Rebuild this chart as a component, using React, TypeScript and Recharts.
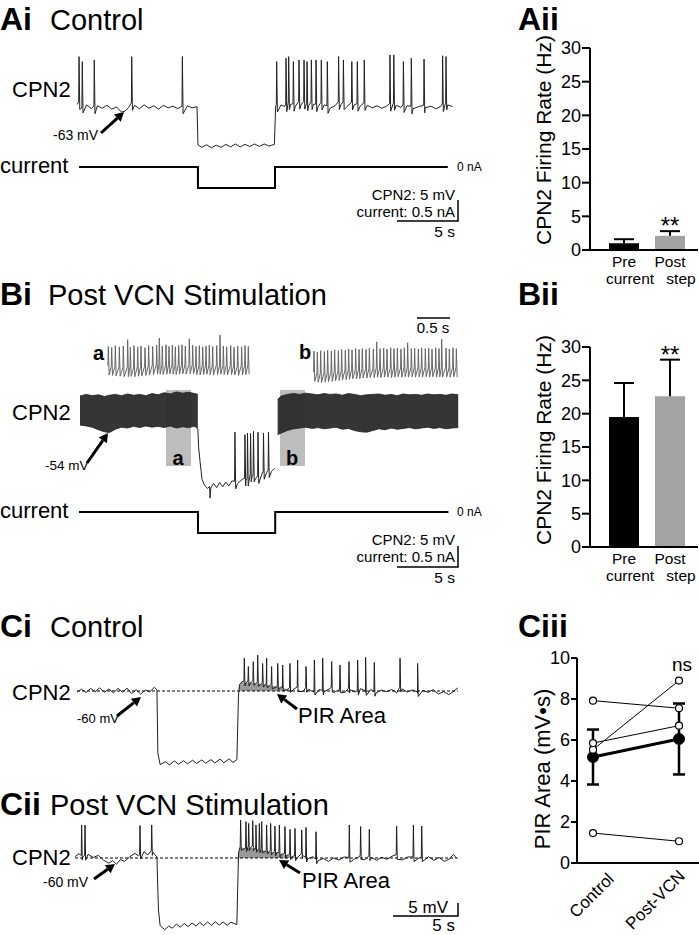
import React from 'react';
import {
  ComposedChart,
  LineChart,
  BarChart,
  Line,
  Area,
  Bar,
  Cell,
  XAxis,
  YAxis,
  ReferenceLine,
  ReferenceArea,
  ErrorBar,
  LabelList,
} from 'recharts';

const FONT = '"Liberation Sans", Arial, Helvetica, sans-serif';

type Pt = [number, number];
type Row = { t: number; v?: number; band?: [number, number]; pir?: [number, number]; base?: boolean };

// ---------- Ai: control recording (time s, membrane mV) ----------
const aiBaseline: Pt[] = [
  [0, -62.4], [0.4, -63.2], [0.8, -62.5], [1.2, -63.4], [1.7, -62.7], [2.1, -63.3], [2.5, -62.6],
  [2.9, -63.5], [3.3, -63.0], [3.7, -64.2], [4.0, -64.0], [4.3, -63.1], [4.8, -62.6], [5.2, -63.4],
  [5.6, -62.5], [6.0, -63.3], [6.4, -62.7], [6.8, -63.5], [7.2, -62.6], [7.6, -63.2], [8.0, -62.8],
  [8.4, -63.4], [9.2, -62.7], [9.6, -63.2], [10.0, -62.9],
  [10.08, -72.0], [10.4, -72.6], [10.8, -72.0], [11.2, -72.7], [11.6, -72.1], [12.0, -72.6],
  [12.4, -71.9], [12.8, -72.5], [13.2, -71.8], [13.6, -72.5], [14.0, -71.9], [14.4, -72.4],
  [14.8, -71.8], [15.2, -72.4], [15.6, -71.8], [16.0, -72.3], [16.45, -71.9],
  [16.55, -63.0], [17.0, -62.5], [17.3, -62.9], [17.8, -62.4], [18.2, -62.8], [18.7, -62.3],
  [19.3, -62.7], [19.7, -62.4], [20.1, -62.9], [20.6, -62.5], [21.1, -63.3], [21.5, -62.7],
  [22.0, -62.4], [22.5, -62.9], [23.1, -62.5], [23.6, -62.8], [24.2, -62.6], [24.6, -63.2],
  [25.0, -62.7], [25.4, -63.3], [25.8, -62.8], [26.6, -62.6], [27.0, -63.1], [27.5, -62.7],
  [28.0, -63.4], [28.5, -62.9], [29.0, -63.2], [29.5, -62.8], [29.9, -63.4], [30.3, -62.9],
  [30.9, -62.5], [31.3, -62.9],
];
const aiSpikes: Pt[] = [
  [0.17, -51.0], [0.44, -52.2], [1.44, -51.8], [4.56, -51.0], [8.78, -51.0], [16.64, -52.2],
  [17.42, -51.4], [17.64, -51.0], [18.03, -52.2], [18.5, -51.8], [18.92, -51.8], [19.17, -52.2],
  [19.53, -51.8], [19.92, -51.8], [20.36, -51.8], [20.86, -52.2], [21.8, -51.0], [22.2, -51.8],
  [22.9, -52.2], [23.36, -52.2], [23.94, -51.8], [26.08, -50.6], [26.4, -50.6], [27.2, -52.2],
  [27.86, -51.4], [28.92, -51.6], [30.47, -50.8], [30.75, -51.0],
];
const aiCurrent: Pt[] = [[0.17, 0], [10.08, 0], [10.08, -0.5], [16.5, -0.5], [16.5, 0], [30.9, 0]];

// ---------- Bi: after VCN stimulation ----------
// envelope of the dense spike train: [t, trough, peak]
const biBand: [number, number, number][] = [
  [0, -53.3, -46.4], [0.5, -53.5, -46.0], [1.0, -53.8, -46.3], [1.5, -54.4, -46.1], [2.0, -54.9, -46.5],
  [2.4, -55.1, -46.2], [2.9, -54.3, -46.0], [3.4, -53.8, -46.3], [3.9, -54.0, -45.9], [4.4, -53.6, -46.2],
  [4.9, -53.9, -46.0], [5.4, -53.5, -46.3], [5.9, -53.8, -45.8], [6.4, -53.6, -46.1], [6.9, -53.9, -45.6],
  [7.4, -53.5, -45.9], [7.9, -54.0, -45.4], [8.4, -53.7, -45.7], [8.9, -53.9, -45.5], [9.4, -53.6, -45.8],
  [9.66, -54.2, -46.0],
  [16.0, -56.0, -49.0], [16.2, -55.6, -47.2], [16.5, -55.2, -46.4], [17.0, -54.6, -46.0], [17.5, -54.2, -45.8],
  [18.0, -54.0, -46.0], [18.5, -53.8, -45.7], [19.0, -54.1, -45.9], [19.5, -53.9, -46.1], [20.0, -54.2, -45.8],
  [20.5, -54.0, -46.0], [21.0, -53.8, -45.9], [21.5, -54.3, -46.2], [22.0, -54.1, -45.8], [22.5, -54.6, -46.0],
  [23.0, -54.9, -46.3], [23.5, -55.0, -46.1], [24.0, -54.6, -46.0], [24.5, -54.2, -45.9], [25.0, -54.4, -46.2],
  [25.5, -54.0, -46.0], [26.0, -54.3, -46.3], [26.5, -54.1, -45.9], [27.0, -53.9, -46.1], [27.5, -54.2, -46.0],
  [28.0, -54.0, -46.2], [28.5, -53.8, -45.9], [29.0, -54.1, -46.1], [29.5, -53.9, -46.0], [30.0, -54.2, -46.2],
  [30.5, -54.0, -45.9], [31.0, -53.9, -46.1],
];
const biHyperBase: Pt[] = [
  [9.66, -54.2], [9.72, -58.5], [9.84, -62.0], [10.0, -66.2], [10.2, -67.6], [10.45, -68.4], [10.62, -67.9],
  [10.66, -70.7], [10.72, -68.3], [10.95, -67.2], [11.2, -68.2], [11.45, -67.0], [11.7, -68.0], [11.95, -66.9],
  [12.2, -67.8], [12.45, -66.6], [12.9, -67.3], [13.3, -66.2], [13.6, -66.6], [14.1, -65.6], [14.4, -66.0],
  [14.9, -65.0], [15.3, -64.6], [15.7, -64.3], [15.95, -63.6], [16.0, -56.0],
];
const biHyperSpikes: Pt[] = [
  [12.7, -55.0], [13.52, -55.6], [13.73, -55.2], [13.98, -55.3], [14.22, -54.8], [14.59, -55.0],
  [15.04, -55.2], [15.45, -55.0],
];
const biCurrent: Pt[] = [[-0.08, 0], [9.67, 0], [9.67, -0.5], [16.0, -0.5], [16.0, 0], [30.2, 0]];
// expanded views a and b: [t, trough, peak]
const insetASpikes: [number, number, number][] = [
  [0.02, -54.0, -47.2], [0.071, -54.1, -47.4], [0.126, -54.2, -47.0], [0.187, -54.3, -47.3],
  [0.247, -54.4, -47.1], [0.313, -54.4, -45.6], [0.354, -54.3, -47.4], [0.409, -54.4, -47.0],
  [0.465, -54.3, -47.3], [0.515, -54.2, -47.1], [0.576, -54.1, -47.5], [0.631, -54.0, -47.0],
  [0.692, -53.9, -47.2], [0.753, -53.8, -46.9], [0.793, -53.8, -45.2], [0.838, -53.9, -47.1],
  [0.894, -53.8, -46.8], [0.939, -53.7, -47.2], [0.99, -53.8, -46.9], [1.035, -53.9, -47.3],
  [1.086, -53.8, -47.0], [1.136, -53.7, -46.8], [1.187, -53.8, -47.1], [1.247, -53.7, -45.4],
  [1.298, -53.8, -46.9], [1.348, -53.9, -47.2], [1.399, -54.0, -47.0], [1.45, -53.9, -47.3],
  [1.5, -53.8, -47.1], [1.55, -53.9, -46.9], [1.601, -54.0, -47.2], [1.662, -53.9, -47.0],
  [1.712, -53.8, -44.5], [1.763, -53.9, -47.1], [1.813, -54.0, -47.3], [1.874, -53.9, -47.0],
  [1.924, -54.0, -47.4], [1.98, -54.1, -47.1], [2.04, -54.0, -47.3], [2.091, -53.9, -47.0],
  [2.141, -53.8, -47.2],
];
const insetBSpikes: [number, number, number][] = [
  [0.015, -54.8, -47.6], [0.066, -55.0, -47.8], [0.116, -55.1, -47.5], [0.172, -55.0, -47.7],
  [0.222, -54.9, -47.4], [0.278, -54.8, -47.6], [0.328, -54.7, -47.3], [0.384, -54.6, -47.5],
  [0.434, -54.5, -47.2], [0.49, -54.4, -47.4], [0.54, -54.3, -47.1], [0.591, -54.2, -47.3],
  [0.646, -54.2, -47.0], [0.697, -54.1, -47.2], [0.747, -54.0, -47.0], [0.803, -54.0, -47.2],
  [0.854, -53.9, -46.9], [0.914, -53.9, -47.1], [0.965, -53.8, -45.4], [1.015, -53.9, -47.0],
  [1.071, -53.8, -46.9], [1.121, -53.8, -47.1], [1.177, -53.9, -46.8], [1.227, -53.8, -47.0],
  [1.278, -53.7, -46.9], [1.333, -53.8, -47.1], [1.384, -53.7, -46.8], [1.434, -53.8, -45.6],
  [1.49, -53.7, -47.0], [1.54, -53.8, -46.9], [1.596, -53.7, -47.1], [1.646, -53.8, -46.8],
  [1.702, -53.7, -47.0], [1.753, -53.8, -46.9], [1.803, -53.7, -47.1], [1.859, -53.8, -46.8],
  [1.909, -53.7, -47.0], [1.95, -53.8, -44.8], [2.015, -53.7, -46.9], [2.066, -53.8, -47.1],
  [2.121, -53.7, -46.8], [2.172, -53.8, -47.0],
];
// highlighted windows on the main trace (t from, t to)
const biWindowA: Pt = [7.05, 9.1];
const biWindowB: Pt = [16.39, 18.44];

// ---------- Ci / Cii: PIR recordings ----------
const ciBaseline: Pt[] = [
  [0, -60.4], [0.35, -59.3], [0.7, -60.6], [1.05, -59.0], [1.4, -60.3], [1.75, -58.8], [2.1, -60.5],
  [2.45, -59.2], [2.8, -60.7], [3.15, -59.0], [3.5, -60.4], [3.85, -58.9], [4.2, -61.0], [4.55, -59.5],
  [4.9, -61.2], [5.25, -59.6], [5.6, -60.3], [5.95, -58.6], [6.15, -59.6],
  [6.22, -84.0], [6.4, -88.3], [6.8, -87.2], [7.1, -88.4], [7.5, -86.9], [7.8, -88.2], [8.2, -86.8],
  [8.5, -88.0], [8.9, -86.6], [9.2, -87.9], [9.6, -86.5], [9.9, -87.8], [10.3, -86.4], [10.6, -87.7],
  [11.0, -86.2], [11.3, -87.6], [11.7, -86.1], [12.0, -87.5], [12.3, -86.4],
  [12.42, -62.0], [12.5, -57.5], [12.7, -56.4], [13.0, -56.8], [13.4, -56.6], [13.8, -57.0], [14.2, -57.3],
  [14.6, -57.6], [15.0, -58.0], [15.4, -58.3], [15.8, -58.8], [16.2, -59.3], [16.6, -59.6],
  [17.0, -59.0], [17.4, -60.2], [17.8, -59.3], [18.2, -60.4], [18.6, -59.5], [19.0, -60.3], [19.4, -59.2],
  [19.8, -60.5], [20.2, -59.4], [20.6, -60.6], [21.0, -59.5], [21.4, -60.4], [21.8, -59.1], [22.2, -60.5],
  [22.6, -59.4], [23.0, -60.8], [23.4, -59.6], [23.8, -60.3], [24.2, -59.4], [24.6, -60.7], [25.0, -59.2],
  [25.4, -60.4], [25.8, -59.6], [26.2, -60.9], [26.6, -59.8], [27.0, -60.5], [27.4, -59.5], [27.8, -61.2],
  [28.2, -60.2], [28.6, -61.4], [29.0, -60.0], [29.3, -58.8],
];
const ciSpikes: Pt[] = [
  [12.87, -47.4], [13.18, -50.6], [13.56, -48.7], [13.9, -46.2], [14.28, -49.4], [14.59, -47.4],
  [14.97, -50.6], [15.44, -49.4], [15.82, -50.0], [16.38, -49.4], [16.97, -48.1], [17.62, -50.6],
  [18.26, -48.1], [18.9, -47.4], [19.59, -48.7], [20.23, -50.0], [20.92, -48.7], [21.59, -48.1],
  [22.2, -47.1], [22.87, -49.0], [24.85, -47.4], [26.2, -49.4],
];
const ciPirWindow: Pt = [12.42, 16.8];

const ciiBaseline: Pt[] = [
  [0, -59.5], [0.3, -58.4], [0.6, -59.6], [1.0, -58.6], [1.4, -59.8], [1.8, -59.0], [2.2, -60.8],
  [2.6, -62.0], [2.9, -61.0], [3.2, -62.4], [3.5, -60.6], [3.8, -61.3], [4.2, -59.6], [4.6, -58.2],
  [4.9, -59.2], [5.3, -57.6], [5.6, -58.8], [6.0, -57.8], [6.3, -59.6],
  [6.42, -80.0], [6.55, -86.0], [6.9, -87.6], [7.2, -86.2], [7.5, -87.0], [7.8, -85.4], [8.1, -86.6],
  [8.4, -85.2], [8.7, -86.4], [9.0, -85.0], [9.3, -86.2], [9.6, -84.8], [9.9, -86.0], [10.2, -84.6],
  [10.5, -85.9], [10.8, -84.5], [11.1, -85.8], [11.4, -84.6], [11.7, -85.9], [12.0, -84.7], [12.45, -85.6],
  [12.58, -58.0], [12.7, -55.8], [13.1, -56.3], [13.5, -56.0], [13.9, -56.6], [14.3, -56.8], [14.7, -57.3],
  [15.1, -57.6], [15.5, -58.0], [15.9, -58.5], [16.3, -58.9], [16.7, -59.4], [17.1, -59.8],
  [17.5, -59.0], [17.9, -60.3], [18.3, -59.5], [18.7, -61.0], [19.1, -60.2], [19.5, -61.3], [19.9, -60.0],
  [20.3, -60.8], [20.7, -59.6], [21.5, -60.4], [21.9, -59.4], [22.3, -60.6], [22.8, -59.8], [23.2, -60.9],
  [23.6, -59.7], [24.0, -60.5], [24.4, -59.3], [25.2, -60.7], [25.6, -59.6], [26.4, -60.2], [27.2, -59.5],
  [27.6, -60.9], [28.0, -59.8], [28.4, -61.3], [28.8, -60.4], [29.1, -58.6], [29.4, -60.2],
];
const ciiSpikes: Pt[] = [
  [0.51, -47.3], [0.77, -47.3], [5.0, -47.5], [5.9, -47.3],
  [12.74, -45.4], [13.15, -46.0], [13.36, -46.7], [13.67, -45.6], [13.92, -47.3], [14.18, -46.7],
  [14.36, -46.0], [14.74, -47.3], [15.05, -46.7], [15.38, -47.7], [15.72, -47.3], [16.15, -47.9],
  [16.54, -49.0], [16.92, -48.6], [17.44, -49.2], [17.77, -48.2], [18.54, -49.9], [21.1, -47.3],
  [21.97, -47.9], [22.64, -49.0], [24.74, -47.7], [26.03, -47.3], [26.67, -47.7],
];
const ciiPirWindow: Pt = [12.58, 17.2];
const restLevel = -60;

// ---------- Aii / Bii: firing rate bars ----------
const rateGroups = ['Pre', 'Post'];
const rateSubLabels = ['current', 'step'];
const rateColors = ['#000000', '#a3a3a3'];
const rateTicks = [0, 5, 10, 15, 20, 25, 30];
const controlRateMean = [1.0, 2.1];
const controlRateSem = [0.6, 0.7];
const vcnRateMean = [19.5, 22.6];
const vcnRateSem = [5.1, 5.5];
const rateStars = ['', '**'];

// ---------- Ciii: PIR area per cell ----------
const pirGroups = ['Control', 'Post-VCN'];
const pirControl = [7.92, 5.53, 5.85, 1.46];
const pirPostVcn = [7.55, 8.9, 6.7, 1.06];
const pirMean = [5.17, 6.05];
const pirSem = [1.34, 1.73];
const pirTicks = [0, 2, 4, 6, 8, 10];

// ---------- helpers ----------
function spikeTrain(base: Pt[], spikes: Pt[], rise: number, fall: number): Row[] {
  const rows: Row[] = base.map(([t, v]) => ({ t, v, base: true }));
  spikes.forEach(([t, peak]) => {
    const foot = base.reduce((b, p) => (Math.abs(p[0] - t) < Math.abs(b[0] - t) ? p : b))[1];
    rows.push({ t: t - rise, v: foot + 0.6 }, { t, v: peak }, { t: t + fall, v: foot - 1.2 });
  });
  return rows.sort((a, b) => a.t - b.t);
}

function pirTrain(base: Pt[], spikes: Pt[], win: Pt): Row[] {
  const rows = spikeTrain(base, spikes, 0.03, 0.05);
  rows.forEach((r) => {
    if (r.base && r.t >= win[0] && r.t <= win[1] && r.v !== undefined) {
      r.pir = [restLevel, Math.max(r.v, restLevel)];
    }
  });
  return rows;
}

function burst(spikes: [number, number, number][]): Row[] {
  const rows: Row[] = [];
  spikes.forEach(([t, trough, peak]) => {
    rows.push({ t: t - 0.006, v: trough + 2.2 }, { t, v: peak }, { t: t + 0.012, v: trough });
  });
  return rows;
}

const steps = (pts: Pt[]): Row[] => pts.map(([t, v]) => ({ t, v }));

const aiRows = spikeTrain(aiBaseline, aiSpikes, 0.03, 0.06);
const biRows: Row[] = [
  ...biBand.map(([t, lo, hi]) => ({ t, band: [lo, hi] as [number, number] })),
  ...spikeTrain(biHyperBase, biHyperSpikes, 0.03, 0.06),
].sort((a, b) => a.t - b.t);
const ciRows = pirTrain(ciBaseline, ciSpikes, ciPirWindow);
const ciiRows = pirTrain(ciiBaseline, ciiSpikes, ciiPirWindow);

interface Box { left: number; top: number; width: number; height: number }
interface Scale { x0: number; pxPerSec: number; y0: number; v0: number; pxPerUnit: number }

function TracePanel({ box, scale, rows, children }: { box: Box; scale: Scale; rows: Row[]; children?: React.ReactNode }) {
  const tMin = (box.left - scale.x0) / scale.pxPerSec;
  const tMax = (box.left + box.width - scale.x0) / scale.pxPerSec;
  const vMax = scale.v0 + (scale.y0 - box.top) / scale.pxPerUnit;
  const vMin = scale.v0 - (box.top + box.height - scale.y0) / scale.pxPerUnit;
  return (
    <div style={{ position: 'absolute', left: box.left, top: box.top }}>
      <ComposedChart width={box.width} height={box.height} data={rows} margin={{ top: 0, right: 0, bottom: 0, left: 0 }}>
        <XAxis dataKey="t" type="number" domain={[tMin, tMax]} hide allowDataOverflow />
        <YAxis type="number" domain={[vMin, vMax]} hide allowDataOverflow />
        {children}
      </ComposedChart>
    </div>
  );
}

const traceLine = (stroke = '#1e1e1e', width = 1) => (
  <Line dataKey="v" type="linear" stroke={stroke} strokeWidth={width} dot={false} isAnimationActive={false} />
);

const Whisker = (props: any) => {
  const { x, y, width, height } = props;
  const cx = x + width / 2;
  return (
    <g>
      <line x1={cx} x2={cx} y1={y} y2={y + height} stroke="#000" strokeWidth={2} />
      <line x1={cx - 10} x2={cx + 10} y1={y} y2={y} stroke="#000" strokeWidth={2} />
    </g>
  );
};

const Stars = (props: any) => {
  const { x, y, width, value } = props;
  if (!value) return null;
  return (
    <text x={x + width / 2} y={y + 3} textAnchor="middle" fontSize={24} fill="#000">
      {value}
    </text>
  );
};

const RateTick = (props: any) => {
  const { x, y, payload, index } = props;
  const i = index ?? payload.index;
  return (
    <g>
      <text x={x} y={y + 17} textAnchor="middle" fontSize={15.5} fill="#000">{payload.value}</text>
      <text x={x + (i === 0 ? 6 : 11)} y={y + 34} textAnchor="middle" fontSize={15.5} fill="#000">{rateSubLabels[i]}</text>
    </g>
  );
};

function RateChart({ top, height, means, sems }: { top: number; height: number; means: number[]; sems: number[] }) {
  const data = rateGroups.map((g, i) => ({ group: g, mean: means[i], sem: sems[i], stars: rateStars[i] }));
  return (
    <div style={{ position: 'absolute', left: 543, top }}>
      <BarChart width={156} height={height} data={data} margin={{ top: 10, right: 1, bottom: 0, left: 0 }} barSize={30}>
        <XAxis dataKey="group" interval={0} height={40} tickLine={false} tickSize={0} tickMargin={0}
          axisLine={{ stroke: '#000', strokeWidth: 2 }} tick={<RateTick />} padding={{ left: 11, right: 5 }} />
        <YAxis domain={[0, 30]} ticks={rateTicks} width={47} tickSize={8} tickMargin={1} interval={0}
          axisLine={{ stroke: '#000', strokeWidth: 2 }} tickLine={{ stroke: '#000', strokeWidth: 2 }}
          tick={{ fill: '#000', fontSize: 18 }} />
        <Bar dataKey="mean" stackId="r" isAnimationActive={false}>
          {data.map((d, i) => <Cell key={d.group} fill={rateColors[i]} />)}
        </Bar>
        <Bar dataKey="sem" stackId="r" shape={Whisker} isAnimationActive={false}>
          <LabelList dataKey="stars" content={Stars} />
        </Bar>
      </BarChart>
    </div>
  );
}

const PirTick = (props: any) => {
  const { x, y, payload, index } = props;
  const i = index ?? payload.index;
  const ax = x + (i === 0 ? 22 : 7);
  const ay = y + (i === 0 ? 17 : 14);
  return (
    <text x={ax} y={ay} transform={`rotate(-45 ${ax} ${ay})`} textAnchor="end" fontSize={17} fill="#000">
      {payload.value}
    </text>
  );
};

function PirChart() {
  const data = pirGroups.map((g, gi) => {
    const row: Record<string, any> = { group: g, mean: pirMean[gi], sem: pirSem[gi] };
    pirControl.forEach((_, ci) => {
      row['cell' + ci] = gi === 0 ? pirControl[ci] : pirPostVcn[ci];
    });
    return row;
  });
  return (
    <div style={{ position: 'absolute', left: 520, top: 648 }}>
      <LineChart width={179} height={286} data={data} margin={{ top: 10, right: 0, bottom: 0, left: 0 }}>
        <XAxis dataKey="group" interval={0} height={71} tickLine={false} tickSize={0} tickMargin={0}
          axisLine={{ stroke: '#000', strokeWidth: 2 }} tick={<PirTick />} padding={{ left: 16, right: 20 }} />
        <YAxis domain={[0, 10]} ticks={pirTicks} width={57} tickSize={6} tickMargin={1} interval={0}
          axisLine={{ stroke: '#000', strokeWidth: 2 }} tickLine={{ stroke: '#000', strokeWidth: 2 }}
          tick={{ fill: '#000', fontSize: 18 }} />
        <Line dataKey="mean" stroke="#000" strokeWidth={3} isAnimationActive={false}
          dot={{ r: 5.5, fill: '#000', stroke: '#000', strokeWidth: 1 }}>
          <ErrorBar dataKey="sem" width={6} strokeWidth={2.5} stroke="#000" direction="y" />
        </Line>
        {pirControl.map((_, ci) => (
          <Line key={ci} dataKey={'cell' + ci} stroke="#000" strokeWidth={1} isAnimationActive={false}
            dot={{ r: 3.5, fill: '#fff', stroke: '#000', strokeWidth: 1.2 }} />
        ))}
      </LineChart>
    </div>
  );
}

function Arrow({ x1, y1, x2, y2 }: { x1: number; y1: number; x2: number; y2: number }) {
  const a = Math.atan2(y2 - y1, x2 - x1);
  const L = 9;
  const H = 5;
  const bx = x2 - L * Math.cos(a);
  const by = y2 - L * Math.sin(a);
  const p1 = `${bx + H * Math.sin(a)},${by - H * Math.cos(a)}`;
  const p2 = `${bx - H * Math.sin(a)},${by + H * Math.cos(a)}`;
  return (
    <g>
      <line x1={x1} y1={y1} x2={bx} y2={by} stroke="#000" strokeWidth={3} />
      <polygon points={`${x2},${y2} ${p1} ${p2}`} fill="#000" />
    </g>
  );
}

function Title({ x, y, letter, text, gap }: { x: number; y: number; letter: string; text?: string; gap?: number }) {
  return (
    <g>
      <text x={x} y={y} fontSize={32} fontWeight="bold">{letter}</text>
      {text && <text x={x + (gap ?? 50)} y={y} fontSize={29}>{text}</text>}
    </g>
  );
}

function Annotations() {
  return (
    <svg width={699} height={935} style={{ position: 'absolute', left: 0, top: 0, pointerEvents: 'none' }} fontFamily={FONT} fill="#000">
      <Title x={0} y={30} letter="Ai" text="Control" />
      <Title x={518} y={30} letter="Aii" />
      <Title x={0} y={305} letter="Bi" text="Post VCN Stimulation" gap={48} />
      <Title x={518} y={305} letter="Bii" />
      <Title x={0} y={637} letter="Ci" text="Control" />
      <Title x={518} y={637} letter="Ciii" />
      <Title x={0} y={815} letter="Cii" text="Post VCN Stimulation" />

      {/* Ai labels */}
      <text x={12} y={97} fontSize={22}>CPN2</text>
      <text x={53} y={140} fontSize={14}>-63 mV</text>
      <Arrow x1={101} y1={133} x2={124} y2={112} />
      <text x={0} y={173} fontSize={22}>current</text>
      <text x={457} y={171} fontSize={12}>0 nA</text>
      <text x={455} y={200} fontSize={15} textAnchor="end">CPN2: 5 mV</text>
      <text x={455} y={217} fontSize={15} textAnchor="end">current: 0.5 nA</text>
      <text x={455} y={237} fontSize={15.5} textAnchor="end">5 s</text>
      <path d="M397 221 H458 V200" stroke="#000" strokeWidth={1.5} fill="none" />

      {/* Bi labels */}
      <text x={93} y={360} fontSize={20} fontWeight="bold">a</text>
      <text x={299} y={359} fontSize={20} fontWeight="bold">b</text>
      <line x1={417} y1={318} x2={450} y2={318} stroke="#000" strokeWidth={1.5} />
      <text x={433} y={333} fontSize={15} textAnchor="middle">0.5 s</text>
      <text x={12} y={420} fontSize={22}>CPN2</text>
      <text x={45} y={470} fontSize={13.5}>-54 mV</text>
      <Arrow x1={87} y1={463} x2={108} y2={433} />
      <text x={178} y={465} fontSize={20} fontWeight="bold" textAnchor="middle">a</text>
      <text x={292} y={465} fontSize={20} fontWeight="bold" textAnchor="middle">b</text>
      <text x={0} y={518} fontSize={22}>current</text>
      <text x={457} y={516} fontSize={12}>0 nA</text>
      <text x={455} y={545} fontSize={15} textAnchor="end">CPN2:  5 mV</text>
      <text x={455} y={562} fontSize={15} textAnchor="end">current: 0.5 nA</text>
      <text x={455} y={583} fontSize={15.5} textAnchor="end">5 s</text>
      <path d="M397 567 H458 V546" stroke="#000" strokeWidth={1.5} fill="none" />

      {/* Ci / Cii labels */}
      <text x={12} y={700} fontSize={22}>CPN2</text>
      <text x={77} y={723} fontSize={13}>-60 mV</text>
      <Arrow x1={117} y1={716} x2={141} y2={697} />
      <text x={298} y={723} fontSize={22}>PIR Area</text>
      <Arrow x1={297} y1={709} x2={277} y2={694} />
      <text x={12} y={865} fontSize={22}>CPN2</text>
      <text x={43} y={887} fontSize={14}>-60 mV</text>
      <Arrow x1={94} y1={879} x2={115} y2={864} />
      <text x={302} y={888} fontSize={22}>PIR Area</text>
      <Arrow x1={300} y1={873} x2={279} y2={860} />
      <text x={448} y={913} fontSize={17} textAnchor="end">5 mV</text>
      <text x={455} y={931} fontSize={17} textAnchor="end">5 s</text>
      <path d="M393 916 H458 V903" stroke="#000" strokeWidth={1.5} fill="none" />

      {/* right column axis titles */}
      <text x={543} y={140} fontSize={21} textAnchor="middle" dominantBaseline="central" transform="rotate(-90 543 140)">CPN2 Firing Rate (Hz)</text>
      <text x={543} y={440} fontSize={21} textAnchor="middle" dominantBaseline="central" transform="rotate(-90 543 440)">CPN2 Firing Rate (Hz)</text>
      <text x={542} y={769} fontSize={22} textAnchor="middle" dominantBaseline="central" transform="rotate(-90 542 769)">PIR Area (mV•s)</text>
      <text x={682} y={671} fontSize={19} textAnchor="middle">ns</text>
    </svg>
  );
}

export default function App() {
  const aiScale: Scale = { x0: 77, pxPerSec: 12, y0: 107, v0: -63, pxPerUnit: 4.2 };
  const aiCurScale: Scale = { x0: 77, pxPerSec: 12, y0: 167, v0: 0, pxPerUnit: 42 };
  const biScale: Scale = { x0: 80, pxPerSec: 12.2, y0: 428, v0: -54, pxPerUnit: 4.2 };
  const biCurScale: Scale = { x0: 80, pxPerSec: 12.2, y0: 512, v0: 0, pxPerUnit: 42 };
  const insetAScale: Scale = { x0: 107, pxPerSec: 66, y0: 375, v0: -54, pxPerUnit: 4.2 };
  const insetBScale: Scale = { x0: 313, pxPerSec: 66, y0: 378, v0: -54, pxPerUnit: 4.2 };
  const ciScale: Scale = { x0: 77, pxPerSec: 13, y0: 691, v0: -60, pxPerUnit: 2.6 };
  const ciiScale: Scale = { x0: 75, pxPerSec: 13, y0: 858, v0: -60, pxPerUnit: 2.6 };
  const biBox: Box = { left: 77, top: 385, width: 383, height: 122 };

  return (
    <div style={{ position: 'absolute', left: 0, top: 0, width: 699, height: 935, background: '#fff', fontFamily: FONT, overflow: 'hidden' }}>
      {/* Ai */}
      <TracePanel box={{ left: 75, top: 48, width: 382, height: 104 }} scale={aiScale} rows={aiRows}>
        {traceLine('#222', 1)}
      </TracePanel>
      <TracePanel box={{ left: 75, top: 158, width: 382, height: 38 }} scale={aiCurScale} rows={steps(aiCurrent)}>
        {traceLine('#000', 2)}
      </TracePanel>

      {/* Bi */}
      <TracePanel box={{ left: 104, top: 328, width: 152, height: 56 }} scale={insetAScale} rows={burst(insetASpikes)}>
        {traceLine('#666', 1)}
      </TracePanel>
      <TracePanel box={{ left: 310, top: 330, width: 152, height: 56 }} scale={insetBScale} rows={burst(insetBSpikes)}>
        {traceLine('#666', 1)}
      </TracePanel>
      <TracePanel box={biBox} scale={biScale} rows={biRows}>
        <ReferenceArea x1={biWindowA[0]} x2={biWindowA[1]} y1={-63.05} y2={-44.95} fill="#bdbdbd" fillOpacity={1} stroke="none" />
        <ReferenceArea x1={biWindowB[0]} x2={biWindowB[1]} y1={-63.05} y2={-44.95} fill="#bdbdbd" fillOpacity={1} stroke="none" />
      </TracePanel>
      <TracePanel box={biBox} scale={biScale} rows={biRows}>
        <Area dataKey="band" type="linear" stroke="#1c1c1c" strokeWidth={0.8} fill="#2a2a2a" fillOpacity={0.95} isAnimationActive={false} connectNulls={false} />
        {traceLine('#222', 1)}
      </TracePanel>
      <TracePanel box={{ left: 75, top: 503, width: 385, height: 38 }} scale={biCurScale} rows={steps(biCurrent)}>
        {traceLine('#000', 2)}
      </TracePanel>

      {/* Ci */}
      <TracePanel box={{ left: 75, top: 645, width: 385, height: 125 }} scale={ciScale} rows={ciRows}>
        <Area dataKey="pir" type="linear" stroke="none" fill="#999" fillOpacity={1} isAnimationActive={false} connectNulls />
        <ReferenceLine segment={[{ x: 0, y: restLevel }, { x: 29.3, y: restLevel }]} stroke="#000" strokeDasharray="3 2" strokeWidth={1} />
        {traceLine('#1e1e1e', 1)}
      </TracePanel>

      {/* Cii */}
      <TracePanel box={{ left: 73, top: 812, width: 387, height: 122 }} scale={ciiScale} rows={ciiRows}>
        <Area dataKey="pir" type="linear" stroke="none" fill="#999" fillOpacity={1} isAnimationActive={false} connectNulls />
        <ReferenceLine segment={[{ x: 0, y: restLevel }, { x: 29.4, y: restLevel }]} stroke="#000" strokeDasharray="3 2" strokeWidth={1} />
        {traceLine('#1e1e1e', 1)}
      </TracePanel>

      <RateChart top={38} height={252} means={controlRateMean} sems={controlRateSem} />
      <RateChart top={337} height={250} means={vcnRateMean} sems={vcnRateSem} />
      <PirChart />
      <Annotations />
    </div>
  );
}
